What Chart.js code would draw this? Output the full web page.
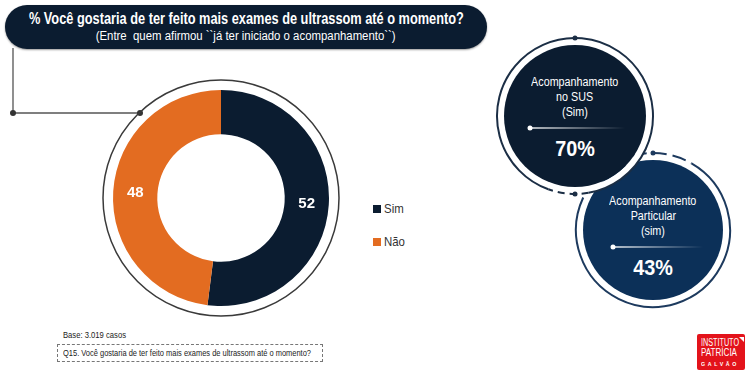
<!DOCTYPE html>
<html>
<head>
<meta charset="utf-8">
<script src="https://cdn.jsdelivr.net/npm/chart.js@4.4.1/dist/chart.umd.min.js"></script>
<style>
  body { margin: 0; width: 754px; height: 372px; background: #fff; position: relative; overflow: hidden;
         font-family: 'Liberation Sans', Arial, sans-serif; }
  .abs { position: absolute; }
  /* narrow text: squeezed to a measured width by fitText() */
  .nw { display: inline-block; white-space: nowrap; }
  .row { display: flex; justify-content: center; white-space: nowrap; }
  #title { left: 5px; top: 5px; width: 482px; height: 44px; background: #0b1c30; border-radius: 23px;
           color: #fff; box-shadow: 0 1px 2px rgba(0,0,0,0.4); }
  #title .t1 { font-weight: bold; font-size: 16px; margin-top: 5px; line-height: 18px; }
  #title .t2 { font-size: 12.5px; line-height: 15px; margin-top: 1px; }
  #donutWrap { left: 101px; top: 78px; width: 240px; height: 240px; }
  .leg { font-size: 13px; color: #333; white-space: nowrap; }
  .leg i { display: inline-block; width: 8px; height: 8px; margin-right: 3px; vertical-align: 0px; }
  .ctext { color: #fff; font-size: 12.5px; line-height: 15px; }
  .cval { color: #fff; font-weight: bold; font-size: 22px; }
  #base { left: 63px; top: 329px; font-size: 9.5px; color: #222; white-space: nowrap; }
  #q15 { left: 57px; top: 344px; width: 266px; height: 18px; border: 1px dashed #777; font-size: 9.5px;
         color: #222; line-height: 16px; padding-left: 5px; box-sizing: border-box; white-space: nowrap; }
  #logo { left: 697px; top: 334px; width: 48px; height: 36px; background: #e3131b; border-radius: 2px;
          color: #fff; font-size: 10px; line-height: 10px; padding: 4px 0 0 4px; box-sizing: border-box; overflow: hidden; }
  #logo .g { font-size: 5px; line-height: 9px; font-weight: bold; }
</style>
</head>
<body>
<script>
// chart data
const categories = ['Sim', 'Não'];
const values = [52, 48];
const colors = ['#0b1c30', '#e36c21'];
const highlightLabels = [['Acompanhamento', 'no SUS', '(Sim)'], ['Acompanhamento', 'Particular', '(sim)']];
const highlightValues = ['70%', '43%'];
</script>

<svg id="deco" class="abs" style="left:0;top:0" width="754" height="372">
  <defs>
    <linearGradient id="fade" x1="0" x2="1" y1="0" y2="0">
      <stop offset="0" stop-color="#fff" stop-opacity="1"/>
      <stop offset="1" stop-color="#fff" stop-opacity="0"/>
    </linearGradient>
  </defs>
  <!-- connector from title to donut -->
  <polyline points="13,48 13,113 140,113" fill="none" stroke="#555" stroke-width="1.3"/>
  <circle cx="13" cy="113" r="3" fill="#333"/>
  <circle cx="140" cy="113" r="3" fill="#333"/>
</svg>

<div id="title" class="abs">
  <div class="row t1"><span class="nw" data-w="435">% Você gostaria de ter feito mais exames de ultrassom até o momento?</span></div>
  <div class="row t2"><span class="nw" data-w="300">(Entre&nbsp; quem afirmou ``já ter iniciado o acompanhamento``)</span></div>
</div>

<div id="donutWrap" class="abs"><canvas id="chart" width="240" height="240"></canvas></div>

<div id="legend"></div>
<div id="highlights"></div>

<div id="base" class="abs"><span class="nw" data-w="63" data-o="left">Base: 3.019 casos</span></div>
<div id="q15" class="abs"><span class="nw" data-w="248" data-o="left">Q15. Você gostaria de ter feito mais exames de ultrassom até o momento?</span></div>
<div id="logo" class="abs">
  <span class="nw" data-w="38" data-o="left">INSTITUTO</span><br>
  <span class="nw" data-w="36" data-o="left">PATRÍCIA</span><br>
  <span class="nw g" data-w="38" data-o="left" style="letter-spacing:2.5px">GALVÃO</span>
</div>
<svg class="abs" style="left:738px;top:336px" width="8" height="8"><polygon points="1,1 6,1 6,6" fill="#fff"/></svg>

<script>
const NS = 'http://www.w3.org/2000/svg';
const deco = document.getElementById('deco');

const svgEl = (tag, attrs) => {
  const e = document.createElementNS(NS, tag);
  for (const k in attrs) e.setAttribute(k, attrs[k]);
  deco.appendChild(e);
  return e;
};

// arc from a0 to a1 degrees (clockwise, 0 = right)
const arcPath = (cx, cy, r, a0, a1) => {
  const p = (a) => [cx + r * Math.cos(a * Math.PI / 180), cy + r * Math.sin(a * Math.PI / 180)];
  const [x0, y0] = p(a0);
  const [x1, y1] = p(a1);
  const large = a1 - a0 > 180 ? 1 : 0;
  return 'M' + x0 + ',' + y0 + ' A' + r + ',' + r + ' 0 ' + large + ',1 ' + x1 + ',' + y1;
};

// right-hand highlight circles
const buildBubbles = () => {
  // circle 2 (behind)
  svgEl('circle', { cx: 653, cy: 230, r: 70, fill: '#0c3058' });
  svgEl('path', { d: arcPath(653, 230, 77, 300, 565), fill: 'none', stroke: '#1d3a5e', 'stroke-width': 2 });
  svgEl('path', { d: arcPath(653, 230, 77, 240, 300), fill: 'none', stroke: '#1d3a5e', 'stroke-width': 2, 'stroke-dasharray': '14 6' });
  svgEl('circle', { cx: 653, cy: 153, r: 2.5, fill: '#1d3a5e' });
  // circle 1 with white halo
  svgEl('circle', { cx: 575, cy: 116, r: 74.5, fill: 'none', stroke: '#fff', 'stroke-width': 7 });
  svgEl('circle', { cx: 575, cy: 116, r: 71, fill: '#0b1c30' });
  svgEl('path', { d: arcPath(575, 116, 78, 110, 440), fill: 'none', stroke: '#1b2e45', 'stroke-width': 2 });
  svgEl('path', { d: arcPath(575, 116, 78, 80, 110), fill: 'none', stroke: '#1b2e45', 'stroke-width': 2, 'stroke-dasharray': '7 5' });
  svgEl('circle', { cx: 575, cy: 194, r: 2.5, fill: '#1b2e45' });
  svgEl('circle', { cx: 575, cy: 38, r: 2.5, fill: '#1b2e45' });
  // separator lines inside
  svgEl('circle', { cx: 530, cy: 128, r: 2.5, fill: '#fff' });
  svgEl('rect', { x: 530, y: 127.3, width: 95, height: 1.4, fill: 'url(#fade)' });
  svgEl('circle', { cx: 613, cy: 247, r: 2.5, fill: '#fff' });
  svgEl('rect', { x: 613, y: 246.3, width: 90, height: 1.4, fill: 'url(#fade)' });
};

// Helper: legend built from the category list
const buildLegend = () => {
  const el = document.getElementById('legend');
  const tops = [201, 234];
  categories.forEach((c, i) => {
    const d = document.createElement('div');
    d.className = 'abs leg';
    d.style.left = '373px';
    d.style.top = tops[i] + 'px';
    d.innerHTML = '<i style="background:' + colors[i] + '"></i><span class="nw" style="transform:scaleX(0.88);transform-origin:left">' + c + '</span>';
    el.appendChild(d);
  });
};

const buildHighlights = () => {
  const el = document.getElementById('highlights');
  const centers = [[575, 75], [653, 194]];
  highlightLabels.forEach((lines, i) => {
    const t = document.createElement('div');
    t.className = 'abs ctext';
    t.style.left = (centers[i][0] - 60) + 'px';
    t.style.width = '120px';
    t.style.top = centers[i][1] + 'px';
    t.innerHTML = lines.map((s) => '<div class="row"><span class="nw" data-s="0.86">' + s + '</span></div>').join('');
    el.appendChild(t);
    const v = document.createElement('div');
    v.className = 'abs cval';
    v.style.left = (centers[i][0] - 60) + 'px';
    v.style.width = '120px';
    v.style.top = (centers[i][1] + 61) + 'px';
    v.innerHTML = '<div class="row"><span class="nw" data-s="0.9">' + highlightValues[i] + '</span></div>';
    el.appendChild(v);
  });
};

// squeeze text horizontally (Arial Narrow look)
const fitText = () => {
  document.querySelectorAll('.nw').forEach((s) => {
    let k = 1;
    if (s.dataset.w) k = Number(s.dataset.w) / s.getBoundingClientRect().width;
    else if (s.dataset.s) k = Number(s.dataset.s);
    else return;
    s.style.transformOrigin = s.dataset.o || 'center';
    s.style.transform = 'scaleX(' + k + ')';
  });
};

// value labels inside the arcs + thin outer ring
const donutExtras = {
  id: 'donutExtras',
  afterDatasetsDraw(chart) {
    const ctx = chart.ctx;
    const meta = chart.getDatasetMeta(0);
    const arc0 = meta.data[0];
    ctx.save();
    ctx.beginPath();
    ctx.arc(arc0.x, arc0.y, arc0.outerRadius + 10, 0, Math.PI * 2);
    ctx.strokeStyle = '#3a3a3a';
    ctx.lineWidth = 1.5;
    ctx.stroke();
    ctx.fillStyle = '#fff';
    ctx.font = 'bold 15px "Liberation Sans", Arial';
    ctx.textAlign = 'center';
    ctx.textBaseline = 'middle';
    meta.data.forEach((arc, i) => {
      const p = arc.tooltipPosition();
      ctx.fillText(values[i], p.x, p.y);
    });
    ctx.restore();
  },
};

const buildChart = () => {
  const ctx = document.getElementById('chart').getContext('2d');
  new Chart(ctx, {
    type: 'doughnut',
    data: {
      labels: categories,
      datasets: [
        {
          data: values,
          backgroundColor: colors,
          borderWidth: 0,
        },
      ],
    },
    options: {
      responsive: false,
      animation: false,
      cutout: '59%',
      layout: { padding: 12 },
      plugins: {
        legend: { display: false },
        tooltip: { enabled: false },
      },
    },
    plugins: [donutExtras],
  });
};

buildBubbles();
buildLegend();
buildHighlights();
fitText();
buildChart();
</script>
</body>
</html>
